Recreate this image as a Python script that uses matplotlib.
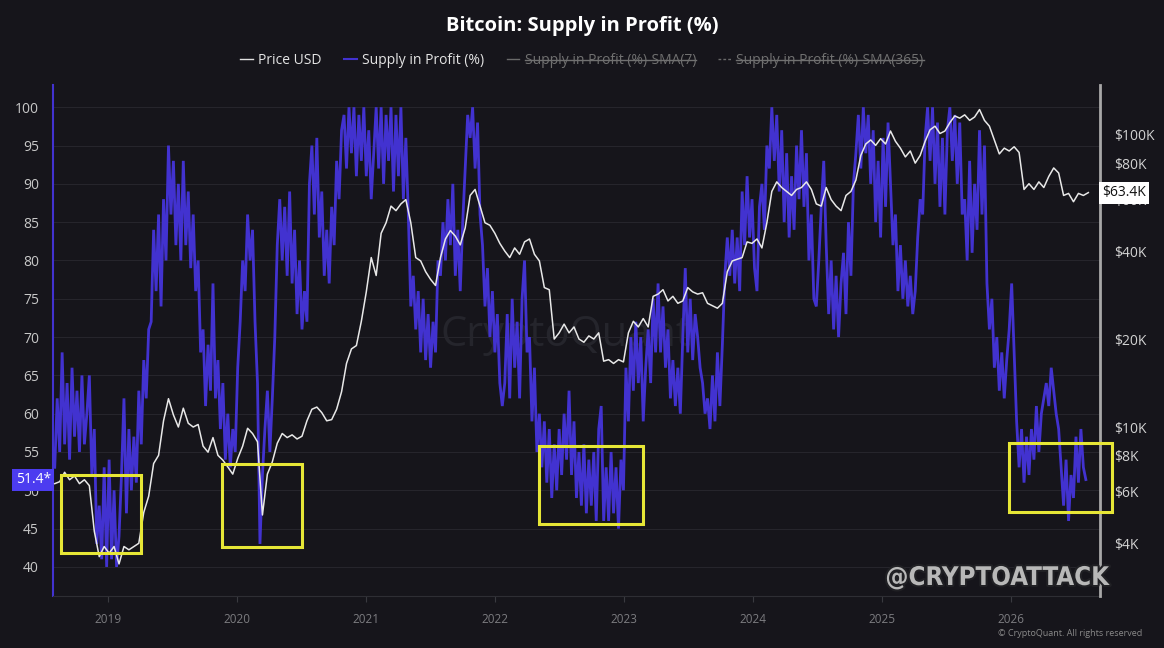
import numpy as np
import pandas as pd
import matplotlib
matplotlib.use("Agg")
import matplotlib.pyplot as plt
import matplotlib.dates as mdates
import matplotlib.patheffects as pe
from matplotlib.patches import Rectangle
from matplotlib.lines import Line2D
from matplotlib.transforms import IdentityTransform
from matplotlib.ticker import NullLocator

plt.rcParams['font.family'] = ['Open Sans', 'DejaVu Sans']

# weekly Supply in Profit (%), starting 2018-08-03
supply_pct = [
    53, 62, 55, 68, 56, 64, 54, 66, 57, 63, 55, 65, 56,
    60, 65, 52, 58, 43, 48, 41, 53, 40, 54, 41, 50, 40,
    44, 52, 62, 47, 58, 50, 57, 51, 63, 56, 67, 62, 71,
    72, 84, 76, 86, 74, 88, 80, 95, 86, 93, 82, 90, 80,
    93, 82, 89, 79, 86, 76, 80, 68, 71, 61, 69, 63, 77,
    62, 67, 58, 64, 54, 60, 53, 58, 55, 66, 72, 80, 76,
    86, 80, 84, 72, 64, 43, 52, 58, 63, 55, 62, 70, 82,
    88, 80, 87, 78, 89, 77, 84, 73, 80, 71, 76, 72, 90,
    95, 86, 96, 83, 89, 78, 84, 77, 87, 82, 93, 88, 97,
    99, 92, 100, 94, 100, 91, 99, 93, 100, 91, 97, 88, 94,
    100, 92, 100, 90, 99, 93, 100, 89, 99, 91, 100, 88, 96,
    86, 74, 78, 71, 76, 68, 75, 67, 73, 66, 72, 68, 80,
    78, 85, 80, 88, 82, 90, 78, 84, 76, 85, 92, 99, 96,
    100, 92, 98, 86, 82, 74, 79, 70, 76, 68, 73, 64, 61,
    64, 73, 62, 75, 66, 72, 62, 75, 80, 68, 70, 59, 66,
    55, 60, 53, 59, 51, 58, 49, 56, 50, 58, 52, 60, 54,
    63, 52, 59, 49, 55, 48, 56, 47, 54, 48, 55, 46, 58,
    61, 46, 53, 46, 55, 47, 53, 45, 54, 50, 66, 59, 70,
    63, 72, 64, 70, 59, 66, 71, 64, 75, 68, 77, 68, 74,
    66, 71, 62, 67, 61, 66, 60, 70, 79, 68, 75, 67, 73,
    70, 66, 64, 60, 62, 58, 65, 59, 68, 61, 69, 78, 83,
    78, 84, 77, 83, 76, 89, 82, 91, 83, 88, 79, 76, 87,
    90, 84, 95, 92, 100, 93, 99, 89, 97, 85, 94, 83, 91,
    84, 95, 88, 97, 87, 94, 80, 86, 75, 74, 80, 87, 93,
    82, 73, 80, 71, 78, 70, 77, 81, 73, 85, 78, 90, 94,
    99, 92, 100, 94, 99, 90, 97, 85, 93, 83, 96, 87, 98,
    90, 82, 86, 76, 82, 75, 80, 74, 78, 73, 76, 83, 88,
    86, 96, 100, 93, 100, 90, 98, 87, 96, 86, 97, 100, 93,
    99, 90, 98, 86, 88, 80, 93, 81, 90, 84, 97, 86, 95,
    77, 71, 75, 66, 70, 63, 68, 62, 67, 71, 77, 68, 59,
    53, 58, 51, 57, 52, 58, 54, 61, 55, 60, 62, 64, 61,
    66, 63, 60, 58, 53, 48, 54, 46, 52, 49, 57, 51, 58,
    53, 51.4,
]

# bi-weekly BTC price in thousands of USD, starting 2018-08-03
price_k = [
    6.4, 6.5, 7.0, 6.6, 6.8, 6.4, 6.6, 6.3, 4.4, 3.6,
    3.9, 3.7, 3.9, 3.4, 3.9, 3.8, 3.9, 4.0, 5.1, 5.8,
    7.5, 8.0, 10.5, 12.5, 11.0, 10.0, 11.6, 10.3, 10.0, 10.2,
    8.6, 8.2, 9.2, 8.0, 7.7, 7.3, 6.9, 7.8, 8.6, 9.9,
    9.5, 8.9, 5.0, 6.9, 7.6, 8.8, 9.5, 9.2, 9.4, 9.1,
    9.3, 10.5, 11.5, 11.7, 11.2, 10.5, 10.6, 11.5, 13.2, 16.5,
    18.5, 19.0, 23, 29, 38, 33, 46, 50, 57, 55,
    58, 60, 50, 38, 37, 34, 32, 30.5, 38, 44,
    47, 45, 42, 48, 62, 65, 57, 50, 49, 46,
    42.5, 40, 38, 41, 39, 43, 44, 39, 37, 30,
    29.5, 20, 21, 22.5, 21, 22, 20, 19.5, 20.5, 20,
    21, 16.8, 17, 16.5, 17, 16.7, 21, 23, 22, 23.5,
    22, 28, 28.5, 29.5, 27, 28, 26.5, 27, 30, 29,
    28.5, 28.8, 26.5, 26, 25.5, 26.5, 34, 37, 37.5, 38,
    43, 42.5, 44, 41, 50, 64, 69, 66, 64, 62,
    65, 66, 69, 65, 58, 57, 66, 60, 57, 55,
    62, 64, 70, 85, 93, 96, 92, 97, 93, 103,
    95, 90, 84, 88, 80, 85, 95, 104, 107, 101,
    103, 110, 116, 114, 117, 112, 115, 122, 112, 107,
    96, 86, 90, 88, 91, 87, 65, 68, 65, 69,
    66, 72, 77, 74, 62, 63, 59, 63, 62, 63.4,
]

pct_ticks = [40, 45, 50, 55, 60, 65, 70, 75, 80, 85, 90, 95, 100]
price_ticks = [4000, 6000, 8000, 10000, 20000, 40000, 60000, 80000, 100000]
price_tick_labels = ["$4K", "$6K", "$8K", "$10K", "$20K", "$40K", "$60K", "$80K", "$100K"]
years = [2019, 2020, 2021, 2022, 2023, 2024, 2025, 2026]

# highlighted zones: start, end, low %, high %
boxes = [
    ("2018-08-22", "2019-04-03", 41.8, 52.0),
    ("2019-11-20", "2020-07-02", 42.6, 53.4),
    ("2022-05-05", "2023-02-24", 45.6, 55.8),
    ("2025-12-25", "2026-10-13", 47.2, 56.2),
]

bg = "#16151b"
blue = "#4232d0"

supply_dates = pd.date_range("2018-08-03", periods=len(supply_pct), freq="7D")
price_dates = pd.date_range("2018-08-03", periods=len(price_k), freq="14D")
price = np.array(price_k) * 1000

fig = plt.figure(figsize=(11.64, 6.48), dpi=100, facecolor=bg)
ax = fig.add_axes([0.0455, 0.0802, 0.8995, 0.7886])
ax.set_facecolor(bg)
ax2 = ax.twinx()

ax.plot(supply_dates, supply_pct, color=blue, lw=2.0, zorder=2, solid_joinstyle="miter")
ax2.plot(price_dates, price, color="#e8e8e8", lw=1.1, zorder=3)

ax.set_xlim(pd.Timestamp("2018-07-29"), pd.Timestamp("2026-09-09"))
ax.set_ylim(36.2, 102.9)
ax2.set_yscale("log")
ax2.set_ylim(2640, 148000)

ax.set_yticks(pct_ticks)
ax.set_yticklabels([str(v) for v in pct_ticks])
ax2.set_yticks(price_ticks)
ax2.set_yticklabels(price_tick_labels)
ax2.yaxis.set_minor_locator(NullLocator())
ax.set_xticks([pd.Timestamp(f"{y}-01-01") for y in years])
ax.set_xticklabels([str(y) for y in years])

ax.grid(axis="y", color="#26252c", lw=0.8)
ax.set_axisbelow(True)
ax.tick_params(axis="y", length=0, pad=10, labelsize=10, labelcolor="#c8c8c8")
ax2.tick_params(axis="y", length=0, pad=10, labelsize=10, labelcolor="#d2d2d2")
ax.tick_params(axis="x", length=4, color="#3a3a40", pad=8, labelsize=8.5, labelcolor="#7c7c80")

for s in ["top", "right"]:
    ax.spines[s].set_visible(False)
ax.spines["left"].set_color(blue)
ax.spines["left"].set_linewidth(1.5)
ax.spines["bottom"].set_color("#2e2e34")
for s in ["top", "left", "bottom"]:
    ax2.spines[s].set_visible(False)
ax2.spines["right"].set_color("#a8a8a8")
ax2.spines["right"].set_linewidth(2)

for start, end, lo, hi in boxes:
    x0 = mdates.date2num(pd.Timestamp(start))
    x1 = mdates.date2num(pd.Timestamp(end))
    r = Rectangle((x0, lo), x1 - x0, hi - lo, transform=ax.transData, fill=False,
                  ec="#e6e636", lw=2.2, clip_on=False, zorder=6)
    ax2.add_patch(r)

ax.text(0.49, 0.51, "CryptoQuant", transform=ax.transAxes, fontsize=30,
        color="#25252c", ha="center", va="center", zorder=0)

ax.text(-0.002, 51.4, "51.4*", transform=ax.get_yaxis_transform(), ha="right", va="center",
        color="white", fontsize=10, clip_on=False, zorder=10,
        bbox=dict(boxstyle="square,pad=0.25", fc="#4c3cf0", ec="none"))
ax2.text(1.002, 63400, "$63.4K", transform=ax2.get_yaxis_transform(), ha="left", va="center",
         color="#111111", fontsize=10, clip_on=False, zorder=10,
         bbox=dict(boxstyle="square,pad=0.25", fc="white", ec="none"))

fig.text(0.5, 1 - 26 / 648, "Bitcoin: Supply in Profit (%)", ha="center", va="center",
         fontsize=14.5, fontweight="bold", color="white")

handles = [
    Line2D([], [], color="#e0e0e0", lw=1),
    Line2D([], [], color=blue, lw=1.5),
    Line2D([], [], color="#6a6a6a", lw=1),
    Line2D([], [], color="#6a6a6a", lw=1, ls=(0, (2, 1.5))),
]
labels = ["Price USD", "Supply in Profit (%)", "Supply in Profit (%)-SMA(7)",
          "Supply in Profit (%)-SMA(365)"]
leg = fig.legend(handles, labels, loc="center", bbox_to_anchor=(0.5, 1 - 60 / 648), ncol=4,
                 frameon=False, handlelength=0.9, handletextpad=0.4, columnspacing=1.6,
                 fontsize=10)
for i, t in enumerate(leg.get_texts()):
    t.set_color("#e4e4e4" if i < 2 else "#707070")

fig.text(0.857, 1 - 578 / 648, "@CRYPTOATTACK", ha="center", va="center", fontsize=18.5,
         fontweight="bold", fontstretch="condensed", family=["DejaVu Sans"], color="#b8b8b8",
         path_effects=[pe.withStroke(linewidth=3, foreground="#202024")], zorder=20)
fig.text(0.981, 1 - 634 / 648, "\u00a9 CryptoQuant. All rights reserved", ha="right",
         va="center", fontsize=6.5, color="#8a8a8a")

fig.canvas.draw()
for t in leg.get_texts()[2:]:
    bb = t.get_window_extent()
    ym = (bb.y0 + bb.y1) / 2
    fig.lines.append(Line2D([bb.x0, bb.x1], [ym, ym], color="#707070", lw=1,
                            transform=IdentityTransform()))

fig.savefig("out.png", dpi=100, facecolor=bg)
